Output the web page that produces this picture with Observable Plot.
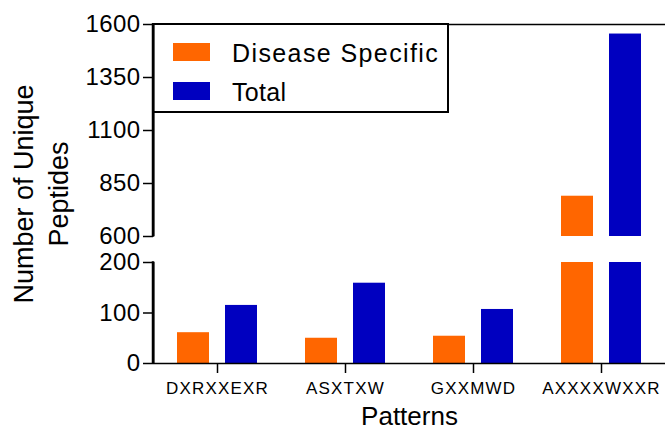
<!DOCTYPE html>
<html>
<head>
<meta charset="utf-8">
<script src="https://cdn.jsdelivr.net/npm/d3@7"></script>
<script src="https://cdn.jsdelivr.net/npm/@observablehq/plot@0.6"></script>
<style>
  body { margin: 0; background: #fff; }
  #chart { width: 665px; height: 436px; }
  .chart [aria-label="y-axis tick label"] text { letter-spacing: 0.4px; }
  .chart [aria-label="x-axis tick label"] text { letter-spacing: 1.2px; }
</style>
</head>
<body>
<div id="chart"></div>
<script>
// ---- data ----
const patterns = ["DXRXXEXR", "ASXTXW", "GXXMWD", "AXXXXWXXR"];
const seriesNames = ["Disease Specific", "Total"];
const diseaseSpecific = [61, 50, 54, 790];
const total = [115, 159, 107, 1555];
const seriesColors = ["#ff6600", "#0000c0"];
const lowerTicks = [0, 100, 200];
const upperTicks = [600, 850, 1100, 1350, 1600];
const breakLow = 200;
const breakHigh = 600;
const yMax = 1600;
const yTitle = ["Number of Unique", "Peptides"];
const xTitle = "Patterns";

// split each bar into the parts that fall inside the two axis segments
function segments(values, series) {
  const out = [];
  values.forEach((v, i) => {
    out.push({pattern: patterns[i], series, y1: 0, y2: Math.min(v, breakLow)});
    if (v > breakHigh) out.push({pattern: patterns[i], series, y1: breakHigh, y2: v});
  });
  return out;
}
const axisParts = [{a: 0, b: breakLow}, {a: breakHigh, b: yMax}];

const font = "'Liberation Sans', Arial, Helvetica, sans-serif";
const W = 665, ML = 153, MR = 0;

const legendMark = (index, scales, values, dims) => {
  const g = d3.create("svg:g");
  g.append("rect")
    .attr("x", dims.marginLeft).attr("y", dims.marginTop)
    .attr("width", 295).attr("height", 88)
    .attr("fill", "#fff").attr("stroke", "#000").attr("stroke-width", 2);
  const spacing = [1.4, 0.3];
  seriesNames.forEach((name, i) => {
    g.append("rect")
      .attr("x", dims.marginLeft + 20).attr("y", dims.marginTop + 19 + i * 39)
      .attr("width", 37).attr("height", 18)
      .attr("fill", scales.color(name));
    g.append("text")
      .attr("x", dims.marginLeft + 79).attr("y", dims.marginTop + 38 + i * 38.5)
      .attr("font-size", 25).attr("font-family", font)
      .attr("text-anchor", "start")
      .attr("letter-spacing", spacing[i] + "px")
      .attr("fill", "#000")
      .text(name);
  });
  return g.node();
};

const plot = Plot.plot({
  width: W,
  height: 436,
  marginLeft: ML,
  marginRight: MR,
  marginTop: 24,
  marginBottom: 73,
  className: "chart",
  style: {fontFamily: font, color: "#000", background: "#fff", overflow: "visible"},
  x: {domain: patterns, padding: 0},
  y: {type: "linear", domain: [0, breakLow, breakHigh, yMax], range: [363, 262, 236, 24]},
  color: {domain: seriesNames, range: seriesColors},
  marks: [
    Plot.barY(segments(diseaseSpecific, seriesNames[0]), {x: "pattern", y1: "y1", y2: "y2", fill: "series", insetLeft: 24, insetRight: 72}),
    Plot.barY(segments(total, seriesNames[1]), {x: "pattern", y1: "y1", y2: "y2", fill: "series", insetLeft: 72, insetRight: 24}),
    Plot.ruleY([0, yMax], {stroke: "#000", strokeWidth: 1.5}),
    Plot.axisY({ticks: lowerTicks.concat(upperTicks), tickSize: 10, tickPadding: 3, fontSize: 24, tickFormat: d => String(d), label: null, strokeWidth: 1.5, stroke: "#000"}),
    Plot.axisX({tickSize: 10, tickPadding: 8, fontSize: 17, label: null, strokeWidth: 1.5, stroke: "#000"}),
    Plot.text([yTitle.join("\n")], {text: d => d, frameAnchor: "left", dx: -114, rotate: -90, fontSize: 27, lineHeight: 1.3, textAnchor: "middle", fill: "#000"}),
    Plot.text([xTitle], {text: d => d, frameAnchor: "bottom", dy: 61, fontSize: 26, fill: "#000"}),
    legendMark,
    // broken y-axis line: rule centred in the frame, shifted to its left edge
    Plot.ruleX(axisParts, {x: null, y1: "a", y2: "b", dx: -(W - ML - MR) / 2, stroke: "#000", strokeWidth: 2})
  ]
});

// also draw the broken axis as filled strips using Plot's own scales
const svgEl = plot.tagName.toLowerCase() === "svg" ? plot
  : Array.from(plot.querySelectorAll("svg")).find(s => +s.getAttribute("width") === W);
document.getElementById("chart").appendChild(plot);
if (svgEl) {
  const ys = plot.scale("y");
  const x0 = plot.scale("x").range[0];
  const axisG = d3.select(svgEl).append("g").attr("fill", "#000").attr("stroke", "none");
  axisParts.forEach(({a, b}) => {
    const yTop = Math.min(ys.apply(a), ys.apply(b));
    const yBot = Math.max(ys.apply(a), ys.apply(b));
    axisG.append("rect")
      .attr("x", x0 - 1.25).attr("width", 2.5)
      .attr("y", yTop - 0.75).attr("height", yBot - yTop + 1.5);
  });
}
</script>
</body>
</html>
